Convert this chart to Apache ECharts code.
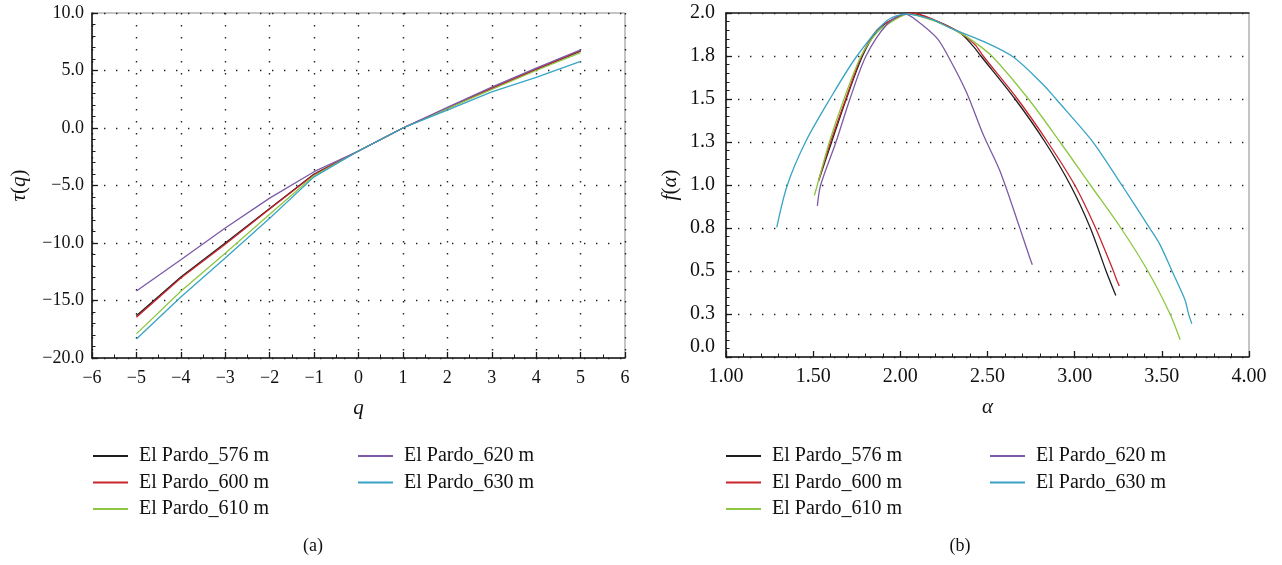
<!DOCTYPE html>
<html>
<head>
<meta charset="utf-8">
<script src="https://cdn.jsdelivr.net/npm/echarts@6/dist/echarts.min.js"></script>
<style>
html,body{margin:0;padding:0;background:#fff;}
#chart{width:1282px;height:565px;}
</style>
</head>
<body>
<div id="chart"></div>
<script>
// ---------- data ----------
const seriesNames = ['El Pardo_576 m', 'El Pardo_600 m', 'El Pardo_610 m', 'El Pardo_620 m', 'El Pardo_630 m'];
const seriesColors = ['#1e1e1e', '#c8242c', '#8dc641', '#7c5ba6', '#37a4c5'];

// (a) tau(q)
const qValues = [-5, -4, -3, -2, -1, 0, 1, 2, 3, 4, 5];
const tau576 = [-16.32, -12.95, -10.0, -7.0, -4.0, -2.0, 0, 1.7, 3.45, 5.1, 6.68];
const tau600 = [-16.45, -13.05, -10.1, -7.05, -4.05, -2.0, 0, 1.7, 3.45, 5.12, 6.72];
const tau610 = [-17.9, -14.2, -10.9, -7.5, -4.15, -2.0, 0, 1.68, 3.35, 5.0, 6.55];
const tau620 = [-14.17, -11.45, -8.7, -6.1, -3.8, -2.0, 0, 1.8, 3.55, 5.2, 6.8];
const tau630 = [-18.35, -14.7, -11.3, -7.85, -4.25, -2.0, 0, 1.55, 3.15, 4.4, 5.8];

// (b) f(alpha)
const alpha576 = [1.530, 1.606, 1.690, 1.783, 1.865, 1.951, 2.056, 2.190, 2.343, 2.419, 2.462, 2.658, 2.830, 2.975, 3.090, 3.180, 3.236];
const f576     = [1.020, 1.250, 1.500, 1.750, 1.893, 1.961, 2.000, 1.960, 1.884, 1.806, 1.750, 1.500, 1.250, 1.000, 0.750, 0.500, 0.357];
const alpha600 = [1.532, 1.600, 1.687, 1.778, 1.865, 1.955, 2.065, 2.190, 2.343, 2.428, 2.475, 2.672, 2.845, 3.000, 3.120, 3.222, 3.241, 3.256];
const f600     = [1.030, 1.250, 1.500, 1.750, 1.900, 1.962, 2.000, 1.962, 1.886, 1.816, 1.750, 1.500, 1.250, 1.000, 0.750, 0.500, 0.448, 0.413];
const alpha610 = [1.507, 1.524, 1.593, 1.677, 1.775, 1.870, 1.951, 2.046, 2.190, 2.343, 2.419, 2.525, 2.735, 2.916, 3.090, 3.265, 3.420, 3.547, 3.605];
const f610     = [0.939, 1.000, 1.250, 1.500, 1.750, 1.890, 1.950, 1.994, 1.955, 1.884, 1.835, 1.750, 1.500, 1.250, 1.000, 0.750, 0.500, 0.250, 0.100];
const alpha620 = [1.524, 1.543, 1.631, 1.711, 1.803, 1.922, 2.027, 2.075, 2.209, 2.285, 2.381, 2.476, 2.572, 2.687, 2.740, 2.757];
const f620     = [0.879, 1.000, 1.250, 1.500, 1.750, 1.932, 1.994, 1.971, 1.855, 1.728, 1.535, 1.292, 1.080, 0.745, 0.584, 0.536];
const alpha630 = [1.291, 1.352, 1.456, 1.596, 1.751, 1.922, 2.037, 2.190, 2.285, 2.476, 2.648, 2.820, 2.893, 2.955, 3.107, 3.270, 3.433, 3.490, 3.557, 3.633, 3.652, 3.672];
const f630     = [0.753, 1.000, 1.250, 1.500, 1.750, 1.955, 1.994, 1.960, 1.913, 1.835, 1.744, 1.583, 1.500, 1.428, 1.247, 1.000, 0.745, 0.652, 0.503, 0.332, 0.255, 0.193];

// ---------- build ----------
const zip = (xs, ys) => xs.map((x, i) => [x, ys[i]]);
const tauSets = [tau576, tau600, tau610, tau620, tau630];
const alphaSets = [alpha576, alpha600, alpha610, alpha620, alpha630];
const fSets = [f576, f600, f610, f620, f630];

const SERIF = '"Liberation Serif", "DejaVu Serif", serif';
const minus = s => s.replace('-', '\u2212');
const dotted = { color: '#222', width: 1.4, type: [1.4, 10.6], cap: 'butt' };

function baseAxis(extra) {
  return Object.assign({
    type: 'value',
    axisLine: { show: true, onZero: false, lineStyle: { color: '#1a1a1a', width: 1.6 } },
    axisTick: { show: true, inside: true, length: 6, lineStyle: { color: '#1a1a1a', width: 1.3 } },
    nameTextStyle: { fontFamily: SERIF, fontSize: 21, color: '#111', fontStyle: 'italic' },
    nameLocation: 'middle'
  }, extra);
}
const minorT = n => ({ show: true, splitNumber: n, length: 3.5, lineStyle: { color: '#1a1a1a', width: 1 } });
const lbl = (size, margin, fmt, extra) => Object.assign({
  color: '#111', fontFamily: SERIF, fontSize: size, margin, showMinLabel: true, showMaxLabel: true, formatter: fmt
}, extra || {});

const series = [];
seriesNames.forEach((name, i) => {
  series.push({
    name, type: 'line', xAxisIndex: 0, yAxisIndex: 0, symbol: 'none', silent: true, animation: false,
    lineStyle: { color: seriesColors[i], width: 1.3 }, itemStyle: { color: seriesColors[i] },
    data: zip(qValues, tauSets[i])
  });
});
seriesNames.forEach((name, i) => {
  series.push({
    name, type: 'line', xAxisIndex: 1, yAxisIndex: 1, symbol: 'none', silent: true, animation: false,
    smooth: 0.3,
    lineStyle: { color: seriesColors[i], width: 1.3 }, itemStyle: { color: seriesColors[i] },
    data: zip(alphaSets[i], fSets[i])
  });
});

function legend(left, names) {
  return {
    left, top: 446, orient: 'vertical', padding: 0, itemGap: 6.5,
    icon: 'rect', itemWidth: 35, itemHeight: 2, data: names, selectedMode: false,
    textStyle: { fontFamily: SERIF, fontSize: 20, lineHeight: 20, color: '#111', padding: [0, 0, 0, 6] }
  };
}

const option = {
  animation: false,
  backgroundColor: '#fff',
  title: [
    { text: '(a)', left: 313, top: 537, textAlign: 'center', padding: 0,
      textStyle: { fontFamily: SERIF, fontSize: 18, fontWeight: 'normal', color: '#111' } },
    { text: '(b)', left: 960, top: 537, textAlign: 'center', padding: 0,
      textStyle: { fontFamily: SERIF, fontSize: 18, fontWeight: 'normal', color: '#111' } }
  ],
  legend: [
    legend(93, seriesNames.slice(0, 3)),
    legend(358, seriesNames.slice(3)),
    legend(726, seriesNames.slice(0, 3)),
    legend(990, seriesNames.slice(3))
  ],
  grid: [
    { left: 92, top: 13, width: 533, height: 345, show: true, borderColor: '#8a8a8a', borderWidth: 1,
      containLabel: false, outerBoundsMode: 'none' },
    { left: 726, top: 13, width: 523, height: 344, show: true, borderColor: '#8a8a8a', borderWidth: 1,
      containLabel: false, outerBoundsMode: 'none' }
  ],
  xAxis: [
    baseAxis({
      gridIndex: 0, min: -6, max: 6, interval: 1, name: 'q', nameGap: 40,
      minorTick: minorT(2),
      axisLabel: lbl(18, 11, v => minus(String(v))),
      splitLine: { show: true, lineStyle: dotted }
    }),
    baseAxis({
      gridIndex: 1, min: 1, max: 4, interval: 0.5, name: 'α', nameGap: 40,
      minorTick: minorT(5),
      axisLabel: lbl(20, 10, v => v.toFixed(2)),
      splitLine: { show: false }
    }),
    {
      type: 'value', gridIndex: 1, position: 'top', min: 1, max: 4,
      axisLine: { show: true, onZero: false, lineStyle: { color: '#2a2a2a', width: 1.6 } },
      axisTick: { show: false }, axisLabel: { show: false }, splitLine: { show: false }
    }
  ],
  yAxis: [
    baseAxis({
      gridIndex: 0, min: -20, max: 10, interval: 5, nameGap: 62,
      name: '{i|τ}{n|(}{i|q}{n|)}',
      nameTextStyle: { rich: {
        i: { fontFamily: SERIF, fontSize: 21, fontStyle: 'italic', color: '#111' },
        n: { fontFamily: SERIF, fontSize: 21, color: '#111' } } },
      minorTick: minorT(5),
      axisLabel: lbl(18, 8, v => minus(v.toFixed(1))),
      splitLine: { show: true, lineStyle: dotted }
    }),
    baseAxis({
      gridIndex: 1, min: 0, max: 2, interval: 0.25, nameGap: 45,
      name: '{i|f}{n|(}{i|α}{n|)}',
      nameTextStyle: { rich: {
        i: { fontFamily: SERIF, fontSize: 21, fontStyle: 'italic', color: '#111' },
        n: { fontFamily: SERIF, fontSize: 21, color: '#111' } } },
      minorTick: minorT(5),
      axisLabel: lbl(20, 11, v => v.toFixed(1), { verticalAlignMinLabel: 'bottom' }),
      splitLine: { show: true, lineStyle: dotted }
    })
  ],
  series
};

const chart = echarts.init(document.getElementById('chart'), null, { renderer: 'canvas' });
chart.setOption(option);
</script>
</body>
</html>
